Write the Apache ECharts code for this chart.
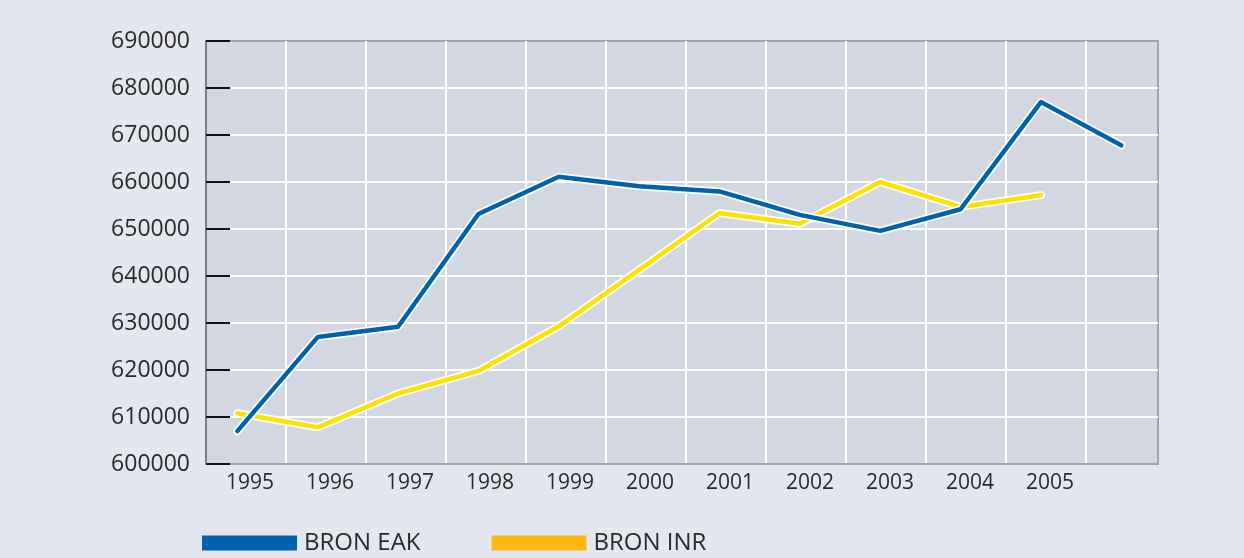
<!DOCTYPE html>
<html>
<head>
<meta charset="utf-8">
<script src="https://cdn.jsdelivr.net/npm/echarts@6/dist/echarts.min.js"></script>
<style>
html,body{margin:0;padding:0;background:#e4e7ef;}
#chart{width:1244px;height:558px;}
</style>
</head>
<body>
<div id="chart"></div>
<script>
// ---- data ----
const years = ['1995','1996','1997','1998','1999','2000','2001','2002','2003','2004','2005'];
const bronEAK = [607000, 627000, 629200, 653200, 661100, 659100, 658000, 653000, 649600, 654200, 677000, 667800];
const bronINR = [610800, 607800, 615000, 619800, 629300, 641300, 653400, 651100, 660000, 654700, 657200];
const yMin = 600000, yMax = 690000, yStep = 10000;
const seriesNames = ['BRON EAK', 'BRON INR'];

const pairs = arr => arr.map((v, i) => [i, v]);
const FONT = '"Open Sans", "DejaVu Sans", sans-serif';
const BLUE = '#0061ad', YELLOW = '#ffe100', LEG_YELLOW = '#fdb913';

const chart = echarts.init(document.getElementById('chart'));
chart.setOption({
  backgroundColor: '#e4e7ef',
  animation: false,
  textStyle: { fontFamily: FONT },
  grid: {
    left: 206, right: 86, top: 41, bottom: 94,
    show: true, backgroundColor: '#d3d7e1', borderColor: '#a3a3a6', borderWidth: 2
  },
  legend: {
    left: 197, top: 526,
    icon: 'rect', itemWidth: 95, itemHeight: 15, itemGap: 71,
    textStyle: { fontFamily: FONT, fontSize: 24, color: '#2a2a2a', padding: [0, 0, 0, 2] },
    data: [
      { name: seriesNames[0], itemStyle: { color: BLUE } },
      { name: seriesNames[1], itemStyle: { color: LEG_YELLOW } }
    ]
  },
  xAxis: [
    { // grid lines + year labels
      type: 'value', min: 0, max: 11.9, interval: 1,
      axisLine: { show: true, onZero: false, lineStyle: { color: '#a3a3a6', width: 2 } },
      axisTick: { show: false },
      splitLine: { show: true, showMinLine: false, showMaxLine: false, lineStyle: { color: '#ffffff', width: 2 } },
      axisLabel: {
        show: true, showMinLabel: true, showMaxLabel: false,
        fontFamily: FONT, fontSize: 21, color: '#2a2a2a', margin: 9,
        align: 'center', padding: [0, 0, 0, 88],
        formatter: v => (Number.isInteger(v) && v < years.length) ? years[v] : ''
      }
    },
    { // data positions
      type: 'value', min: -0.39, max: 11.457, show: false
    }
  ],
  yAxis: {
    type: 'value', min: yMin, max: yMax, interval: yStep,
    axisLine: { show: true, lineStyle: { color: '#7d7d80', width: 2 } },
    axisTick: { show: true, inside: true, length: 24, lineStyle: { color: '#111', width: 2 } },
    splitLine: { show: true, showMinLine: false, showMaxLine: false, lineStyle: { color: '#ffffff', width: 2 } },
    axisLabel: { fontFamily: FONT, fontSize: 23, color: '#2a2a2a', margin: 16,
      formatter: v => String(v) }
  },
  series: [
    { name: 'inr-outline', type: 'line', xAxisIndex: 1, data: pairs(bronINR), showSymbol: false, silent: true,
      lineStyle: { color: '#ffffff', width: 8, cap: 'round', join: 'round' } },
    { name: seriesNames[1], type: 'line', xAxisIndex: 1, data: pairs(bronINR), showSymbol: false,
      itemStyle: { color: LEG_YELLOW },
      lineStyle: { color: YELLOW, width: 4.5, cap: 'round', join: 'round' } },
    { name: 'eak-outline', type: 'line', xAxisIndex: 1, data: pairs(bronEAK), showSymbol: false, silent: true,
      lineStyle: { color: '#ffffff', width: 8, cap: 'round', join: 'round' } },
    { name: seriesNames[0], type: 'line', xAxisIndex: 1, data: pairs(bronEAK), showSymbol: false,
      itemStyle: { color: BLUE },
      lineStyle: { color: BLUE, width: 4.5, cap: 'round', join: 'round' } }
  ]
});
</script>
</body>
</html>
